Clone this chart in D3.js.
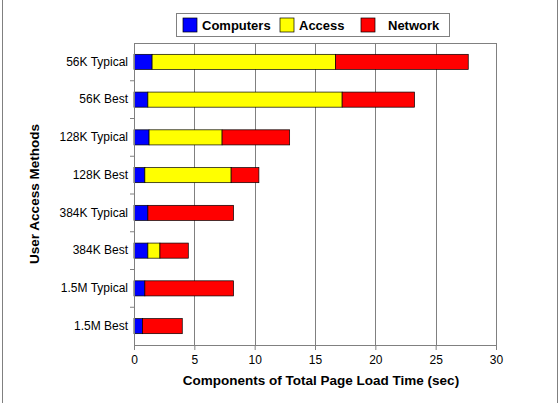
<!DOCTYPE html>
<html>
<head>
<meta charset="utf-8">
<script src="https://cdn.jsdelivr.net/npm/d3@7"></script>
<style>
  body { margin: 0; background: #fff; }
  svg { display: block; font-family: Arial, "Liberation Sans", sans-serif; }
</style>
</head>
<body>
<div id="chart"></div>
<script>
// data, top to bottom as in the chart
const methods = ["56K Typical", "56K Best", "128K Typical", "128K Best",
                 "384K Typical", "384K Best", "1.5M Typical", "1.5M Best"]
const computers = [1.5, 1.15, 1.25, 0.9, 1.15, 1.15, 0.9, 0.7]
const access    = [15.2, 16.1, 6.05, 7.15, 0, 1.0, 0, 0]
const network   = [11.0, 6.0, 5.6, 2.3, 7.1, 2.35, 7.35, 3.3]
const seriesNames = ["Computers", "Access", "Network"]
const seriesColors = ["#0000ff", "#ffff00", "#ff0000"]
const xTicks = [0, 5, 10, 15, 20, 25, 30]

const rows = methods.map((m, i) => ({
  method: m, Computers: computers[i], Access: access[i], Network: network[i]
}))

const width = 560, height = 403
const margin = { top: 43, right: 64, bottom: 58, left: 134 }
const boundedWidth = width - margin.left - margin.right
const boundedHeight = height - margin.top - margin.bottom

const svg = d3.select("#chart").append("svg")
  .attr("width", width)
  .attr("height", height)

// outer frame
svg.append("rect")
  .attr("x", 2.5).attr("y", -5)
  .attr("width", 555).attr("height", height + 10)
  .attr("fill", "none").attr("stroke", "#808080")

const bounds = svg.append("g")
  .attr("transform", `translate(${margin.left},${margin.top})`)

const xScale = d3.scaleLinear()
  .domain([0, 30])
  .range([0, boundedWidth])

const yScale = d3.scaleBand()
  .domain(methods)
  .range([0, boundedHeight])
  .paddingInner(0.6)
  .paddingOuter(0.3)

// gridlines
bounds.append("g")
  .selectAll("line")
  .data(xTicks.slice(1))
  .join("line")
    .attr("x1", d => Math.round(xScale(d)) + 0.5)
    .attr("x2", d => Math.round(xScale(d)) + 0.5)
    .attr("y1", 0).attr("y2", boundedHeight)
    .attr("stroke", "#808080")

// plot area top border
bounds.append("line")
  .attr("x1", 0).attr("x2", boundedWidth)
  .attr("y1", 0.5).attr("y2", 0.5)
  .attr("stroke", "#808080")

// stacked bars
const stacked = d3.stack().keys(seriesNames)(rows)

bounds.append("g")
  .selectAll("g")
  .data(stacked)
  .join("g")
    .attr("fill", (d, i) => seriesColors[i])
  .selectAll("rect")
  .data(d => d.filter(s => s[1] - s[0] > 0))
  .join("rect")
    .attr("x", d => xScale(d[0]))
    .attr("y", d => yScale(d.data.method))
    .attr("width", d => xScale(d[1]) - xScale(d[0]))
    .attr("height", yScale.bandwidth())
    .attr("stroke", "#000")
    .attr("stroke-width", 0.7)

// x axis
const xAxis = bounds.append("g")
  .attr("transform", `translate(0,${boundedHeight})`)
  .call(d3.axisBottom(xScale).tickValues(xTicks).tickSize(5).tickPadding(5))
xAxis.select(".domain").attr("stroke", "#808080")
xAxis.selectAll(".tick line").attr("stroke", "#808080")
xAxis.selectAll("text").attr("font-size", 12).attr("fill", "#000")
  .attr("font-family", "Arial, 'Liberation Sans', sans-serif")

// y axis: ticks between categories
const yAxis = bounds.append("g")
  .call(d3.axisLeft(yScale).tickSize(0).tickPadding(6))
yAxis.select(".domain").attr("stroke", "#808080")
yAxis.selectAll("text").attr("font-size", 12).attr("fill", "#000")
  .attr("font-family", "Arial, 'Liberation Sans', sans-serif")

const step = yScale.step()
const boundaries = d3.range(1, methods.length).map(i => yScale(methods[i]) - step * yScale.paddingInner() / 2)
bounds.append("g")
  .selectAll("line")
  .data(boundaries)
  .join("line")
    .attr("x1", -4).attr("x2", 0)
    .attr("y1", d => d).attr("y2", d => d)
    .attr("stroke", "#808080")

// axis titles
svg.append("text")
  .attr("x", 321)
  .attr("y", 385)
  .attr("text-anchor", "middle")
  .attr("font-size", 13.5)
  .attr("font-weight", "bold")
  .text("Components of Total Page Load Time (sec)")

svg.append("text")
  .attr("transform", `translate(39,${margin.top + boundedHeight / 2}) rotate(-90)`)
  .attr("text-anchor", "middle")
  .attr("font-size", 13.5)
  .attr("font-weight", "bold")
  .text("User Access Methods")

// legend
const legend = svg.append("g").attr("transform", "translate(176,13)")
legend.append("rect")
  .attr("x", 0.5).attr("y", 0.5)
  .attr("width", 273).attr("height", 23)
  .attr("fill", "#fff").attr("stroke", "#808080")

const legendX = [7, 104, 185]
const item = legend.selectAll("g.item")
  .data(seriesNames)
  .join("g")
    .attr("class", "item")
    .attr("transform", (d, i) => `translate(${legendX[i]},0)`)
item.append("rect")
  .attr("x", 0).attr("y", 5)
  .attr("width", 14).attr("height", 14)
  .attr("fill", (d, i) => seriesColors[i])
  .attr("stroke", "#000").attr("stroke-width", 0.7)
item.append("text")
  .attr("x", (d, i) => i === 2 ? 27 : 19)
  .attr("y", 17)
  .attr("font-size", 13)
  .attr("font-weight", "bold")
  .text(d => d)
</script>
</body>
</html>
